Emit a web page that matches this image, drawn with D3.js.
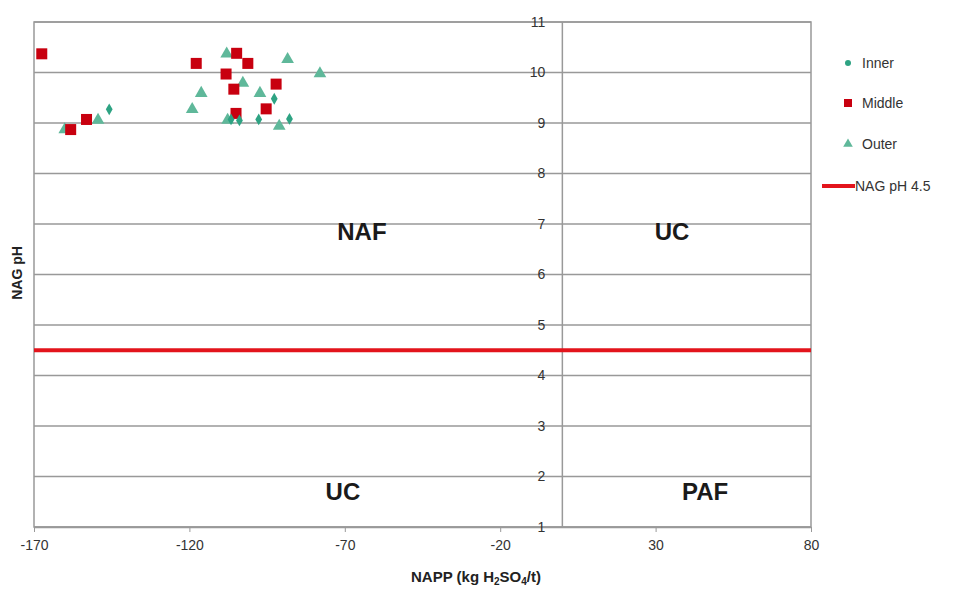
<!DOCTYPE html>
<html>
<head>
<meta charset="utf-8">
<script src="https://cdn.jsdelivr.net/npm/d3@7"></script>
<style>
  body { margin: 0; background: #fff; }
  svg { font-family: "Liberation Sans", Arial, sans-serif; }
  .tick-label { font-size: 14px; fill: #333; }
  .zone { font-size: 24px; font-weight: bold; fill: #1a1a1a; }
  .legend-text { font-size: 14px; fill: #333; }
</style>
</head>
<body>
<svg id="chart" width="960" height="592"></svg>
<script>
// NAPP (x) vs NAG pH (y)
var innerX = [-145.8, -92.7, -87.8, -97.7, -103.9, -106.6];
var innerY = [9.27, 9.48, 9.08, 9.07, 9.05, 9.07];

var middleX = [-167.5, -153.1, -158.2, -117.8, -104.8, -101.2, -108.2, -105.7, -92.1, -95.3, -105];
var middleY = [10.37, 9.07, 8.87, 10.18, 10.38, 10.18, 9.97, 9.67, 9.77, 9.28, 9.19];

var outerX = [-160.1, -149.4, -116.2, -119.1, -108, -102.8, -97.3, -88.4, -78, -91.1, -107.7];
var outerY = [8.87, 9.06, 9.59, 9.27, 10.37, 9.79, 9.59, 10.26, 9.98, 8.94, 9.06];

var xTicks = [-170, -120, -70, -20, 30, 80];
var yTicks = [1, 2, 3, 4, 5, 6, 7, 8, 9, 10, 11];
var nagLimit = 4.5;

var zones = [
  { label: "NAF", x: -64.5, y: 6.68 },
  { label: "UC", x: 35.3, y: 6.68 },
  { label: "UC", x: -70.6, y: 1.53 },
  { label: "PAF", x: 45.9, y: 1.53 }
];

var legendItems = ["Inner", "Middle", "Outer", "NAG pH 4.5"];

var svg = d3.select("#chart");

var x = d3.scaleLinear().domain([-170, 80]).range([34, 811]);
var y = d3.scaleLinear().domain([1, 11]).range([527, 22]);

var gridColor = "#999";

// horizontal gridlines
svg.append("g").selectAll("line")
  .data(yTicks)
  .enter().append("line")
    .attr("x1", x(-170))
    .attr("x2", x(80))
    .attr("y1", function(d) { return y(d); })
    .attr("y2", function(d) { return y(d); })
    .attr("stroke", gridColor)
    .attr("stroke-width", 1.5);

// plot border
svg.append("rect")
  .attr("x", x(-170))
  .attr("y", y(11))
  .attr("width", x(80) - x(-170))
  .attr("height", y(1) - y(11))
  .attr("fill", "none")
  .attr("stroke", gridColor)
  .attr("stroke-width", 1.5);

// y axis crossing at x = 0
svg.append("line")
  .attr("x1", x(0)).attr("x2", x(0))
  .attr("y1", y(11)).attr("y2", y(1))
  .attr("stroke", gridColor)
  .attr("stroke-width", 1.5);

// x axis
var xAxis = svg.append("g")
  .attr("transform", "translate(0," + y(1) + ")")
  .call(d3.axisBottom(x).tickValues(xTicks).tickSize(5).tickSizeOuter(0)
    .tickFormat(function(d) { return String(d); }));
xAxis.attr("font-family", null).attr("font-size", null);
xAxis.select(".domain").attr("stroke", gridColor).attr("stroke-width", 1.5);
xAxis.selectAll(".tick line").attr("stroke", gridColor);
xAxis.selectAll(".tick text")
  .attr("class", "tick-label")
  .attr("dy", "1.05em");

// y axis labels next to the zero line
var yAxis = svg.append("g")
  .attr("transform", "translate(" + x(0) + ",0)")
  .call(d3.axisLeft(y).tickValues(yTicks).tickSize(0).tickPadding(17));
yAxis.attr("font-family", null).attr("font-size", null);
yAxis.select(".domain").remove();
yAxis.selectAll(".tick text").attr("class", "tick-label");

// NAG pH 4.5 line
svg.append("line")
  .attr("x1", x(-170)).attr("x2", x(80))
  .attr("y1", y(nagLimit)).attr("y2", y(nagLimit))
  .attr("stroke", "#e3141c")
  .attr("stroke-width", 4);

// zone labels
svg.append("g").selectAll("text")
  .data(zones)
  .enter().append("text")
    .attr("class", "zone")
    .attr("x", function(d) { return x(d.x); })
    .attr("y", function(d) { return y(d.y); })
    .attr("text-anchor", "middle")
    .text(function(d) { return d.label; });

// axis titles
svg.append("text")
  .attr("x", 476).attr("y", 582)
  .attr("text-anchor", "middle")
  .style("font-size", "15px").style("font-weight", "bold").attr("fill", "#222")
  .html('NAPP (kg H<tspan dy="3" font-size="10">2</tspan><tspan dy="-3">SO</tspan><tspan dy="3" font-size="10">4</tspan><tspan dy="-3">/t)</tspan>');

svg.append("text")
  .attr("transform", "translate(22,273) rotate(-90)")
  .attr("text-anchor", "middle")
  .style("font-size", "14px").style("font-weight", "bold").attr("fill", "#222")
  .text("NAG pH");

// points
var innerColor = "#2ea383";
var middleColor = "#c8000f";
var outerColor = "#5fb89a";

function pairs(xs, ys) {
  return xs.map(function(v, i) { return [v, ys[i]]; });
}

var triangle = d3.symbol().type(d3.symbolTriangle).size(70);
var diamond = d3.symbol().type(d3.symbolDiamond).size(40);

svg.append("g").selectAll("path")
  .data(pairs(outerX, outerY))
  .enter().append("path")
    .attr("d", triangle)
    .attr("transform", function(d) { return "translate(" + x(d[0]) + "," + y(d[1]) + ")"; })
    .attr("fill", outerColor);

svg.append("g").selectAll("rect")
  .data(pairs(middleX, middleY))
  .enter().append("rect")
    .attr("x", function(d) { return x(d[0]) - 5.5; })
    .attr("y", function(d) { return y(d[1]) - 5.5; })
    .attr("width", 11).attr("height", 11)
    .attr("fill", middleColor);

svg.append("g").selectAll("path")
  .data(pairs(innerX, innerY))
  .enter().append("path")
    .attr("d", diamond)
    .attr("transform", function(d) { return "translate(" + x(d[0]) + "," + y(d[1]) + ")"; })
    .attr("fill", innerColor);

// legend
var legend = svg.append("g").attr("transform", "translate(848,0)");
var legendY = [63, 103, 144, 186];

legend.append("circle").attr("cx", 0).attr("cy", legendY[0]).attr("r", 3).attr("fill", innerColor);
legend.append("rect").attr("x", -4).attr("y", legendY[1] - 4).attr("width", 8).attr("height", 8).attr("fill", middleColor);
legend.append("path").attr("d", d3.symbol().type(d3.symbolTriangle).size(40))
  .attr("transform", "translate(0," + legendY[2] + ")").attr("fill", outerColor);
legend.append("line").attr("x1", -26).attr("x2", 7).attr("y1", legendY[3]).attr("y2", legendY[3])
  .attr("stroke", "#e3141c").attr("stroke-width", 4);

legend.selectAll(".legend-text")
  .data(legendItems)
  .enter().append("text")
    .attr("class", "legend-text")
    .attr("x", function(d, i) { return i == 3 ? 7 : 14; })
    .attr("y", function(d, i) { return legendY[i] + 5; })
    .text(function(d) { return d; });
</script>
</body>
</html>
